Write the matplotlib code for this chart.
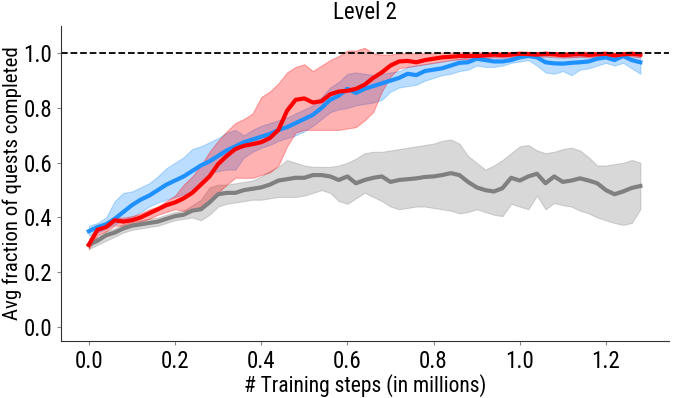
import numpy as np
import matplotlib
matplotlib.use("Agg")
import matplotlib.pyplot as plt
from matplotlib import font_manager

# training steps (millions), sampled every 0.02
STEPS = np.round(np.arange(0, 1.281, 0.02), 2)

BLUE_MEAN = [0.350, 0.365, 0.375, 0.395, 0.420, 0.445, 0.465, 0.480, 0.500, 0.520, 0.535, 0.550, 0.570,
             0.590, 0.605, 0.625, 0.645, 0.660, 0.675, 0.685, 0.695, 0.705, 0.720, 0.730, 0.745, 0.760,
             0.775, 0.800, 0.830, 0.845, 0.870, 0.855, 0.870, 0.880, 0.890, 0.900, 0.910, 0.925, 0.920,
             0.935, 0.940, 0.945, 0.955, 0.965, 0.967, 0.980, 0.975, 0.970, 0.970, 0.975, 0.985, 0.990,
             0.985, 0.967, 0.963, 0.962, 0.965, 0.967, 0.970, 0.980, 0.985, 0.975, 0.990, 0.975, 0.967]
BLUE_HI = [0.370, 0.380, 0.400, 0.460, 0.490, 0.495, 0.510, 0.525, 0.550, 0.580, 0.600, 0.620, 0.650,
           0.660, 0.675, 0.690, 0.710, 0.720, 0.700, 0.720, 0.735, 0.745, 0.755, 0.765, 0.780, 0.795,
           0.810, 0.840, 0.875, 0.895, 0.925, 0.930, 0.925, 0.920, 0.925, 0.930, 0.935, 0.950, 0.955,
           0.960, 0.965, 0.970, 0.975, 0.980, 0.985, 0.995, 0.995, 0.990, 0.990, 0.990, 0.995, 1.000,
           0.998, 0.990, 0.985, 0.985, 0.988, 0.990, 0.992, 0.995, 1.000, 0.995, 1.000, 0.998, 1.000]
BLUE_LO = [0.335, 0.345, 0.360, 0.375, 0.390, 0.400, 0.420, 0.440, 0.455, 0.465, 0.475, 0.485, 0.490,
           0.530, 0.560, 0.570, 0.575, 0.575, 0.620, 0.640, 0.655, 0.665, 0.680, 0.690, 0.700, 0.715,
           0.735, 0.760, 0.785, 0.795, 0.800, 0.810, 0.815, 0.820, 0.830, 0.860, 0.875, 0.880, 0.885,
           0.900, 0.910, 0.920, 0.925, 0.935, 0.940, 0.955, 0.950, 0.950, 0.955, 0.965, 0.970, 0.975,
           0.955, 0.930, 0.925, 0.935, 0.920, 0.940, 0.945, 0.955, 0.965, 0.955, 0.965, 0.945, 0.925]

RED_MEAN = [0.300, 0.355, 0.365, 0.390, 0.385, 0.390, 0.400, 0.415, 0.430, 0.445, 0.455, 0.470, 0.490,
            0.520, 0.550, 0.595, 0.625, 0.650, 0.662, 0.668, 0.675, 0.690, 0.720, 0.790, 0.830, 0.835,
            0.820, 0.825, 0.850, 0.860, 0.863, 0.870, 0.885, 0.910, 0.930, 0.955, 0.970, 0.972, 0.967,
            0.975, 0.980, 0.985, 0.987, 0.990, 0.990, 0.990, 0.992, 0.995, 0.993, 0.995, 0.998, 0.997,
            0.995, 0.998, 0.996, 0.993, 0.995, 0.997, 0.994, 0.996, 0.998, 0.992, 0.996, 0.998, 0.995]
RED_HI = [0.320, 0.370, 0.380, 0.400, 0.400, 0.405, 0.415, 0.430, 0.440, 0.460, 0.480, 0.520, 0.550,
          0.590, 0.640, 0.680, 0.715, 0.745, 0.760, 0.780, 0.840, 0.860, 0.890, 0.930, 0.950, 0.960,
          0.935, 0.955, 0.975, 0.990, 1.010, 1.010, 1.020, 1.000, 0.995, 0.995, 1.000, 1.000, 1.000,
          1.000, 1.000, 1.002, 1.003, 1.003, 1.003, 1.003, 1.004, 1.005, 1.004, 1.005, 1.006, 1.005,
          1.005, 1.006, 1.005, 1.004, 1.005, 1.006, 1.005, 1.005, 1.006, 1.003, 1.005, 1.006, 1.005]
RED_LO = [0.285, 0.335, 0.350, 0.370, 0.370, 0.375, 0.385, 0.395, 0.410, 0.420, 0.430, 0.425, 0.425,
          0.440, 0.460, 0.490, 0.520, 0.545, 0.545, 0.545, 0.555, 0.565, 0.590, 0.660, 0.710, 0.720,
          0.720, 0.720, 0.720, 0.720, 0.725, 0.730, 0.755, 0.785, 0.860, 0.915, 0.945, 0.950, 0.955,
          0.960, 0.965, 0.970, 0.975, 0.978, 0.978, 0.980, 0.982, 0.985, 0.984, 0.985, 0.988, 0.988,
          0.986, 0.988, 0.987, 0.984, 0.985, 0.987, 0.985, 0.986, 0.988, 0.982, 0.986, 0.988, 0.985]

GRAY_MEAN = [0.300, 0.315, 0.335, 0.345, 0.360, 0.370, 0.375, 0.380, 0.385, 0.395, 0.405, 0.410, 0.425,
             0.430, 0.455, 0.485, 0.490, 0.490, 0.500, 0.505, 0.510, 0.520, 0.535, 0.540, 0.545, 0.545,
             0.555, 0.555, 0.550, 0.537, 0.550, 0.525, 0.537, 0.545, 0.550, 0.530, 0.537, 0.540, 0.543,
             0.548, 0.550, 0.555, 0.562, 0.555, 0.530, 0.510, 0.500, 0.495, 0.507, 0.545, 0.535, 0.550,
             0.560, 0.525, 0.550, 0.530, 0.535, 0.543, 0.535, 0.525, 0.500, 0.485, 0.495, 0.508, 0.515]
GRAY_HI = [0.310, 0.330, 0.350, 0.360, 0.375, 0.385, 0.390, 0.395, 0.400, 0.410, 0.420, 0.425, 0.445,
           0.465, 0.510, 0.520, 0.520, 0.525, 0.530, 0.535, 0.550, 0.570, 0.585, 0.610, 0.600, 0.590,
           0.585, 0.585, 0.585, 0.590, 0.600, 0.615, 0.635, 0.640, 0.640, 0.645, 0.650, 0.655, 0.660,
           0.665, 0.670, 0.680, 0.685, 0.670, 0.625, 0.600, 0.575, 0.590, 0.610, 0.635, 0.660, 0.665,
           0.645, 0.635, 0.640, 0.650, 0.655, 0.645, 0.620, 0.590, 0.590, 0.595, 0.600, 0.610, 0.600]
GRAY_LO = [0.285, 0.300, 0.315, 0.330, 0.345, 0.355, 0.360, 0.365, 0.370, 0.380, 0.390, 0.395, 0.400,
           0.390, 0.410, 0.440, 0.450, 0.455, 0.460, 0.465, 0.465, 0.470, 0.475, 0.475, 0.475, 0.480,
           0.490, 0.500, 0.490, 0.460, 0.450, 0.470, 0.490, 0.475, 0.460, 0.440, 0.430, 0.435, 0.440,
           0.440, 0.435, 0.430, 0.425, 0.415, 0.420, 0.430, 0.420, 0.410, 0.405, 0.450, 0.440, 0.430,
           0.480, 0.430, 0.453, 0.445, 0.440, 0.425, 0.415, 0.400, 0.390, 0.380, 0.373, 0.380, 0.430]

X_TICKS = [0.0, 0.2, 0.4, 0.6, 0.8, 1.0, 1.2]
Y_TICKS = [0.0, 0.2, 0.4, 0.6, 0.8, 1.0]


def pick_font():
    names = {f.name for f in font_manager.fontManager.ttflist}
    for name in ["Roboto Condensed", "Roboto"]:
        if name in names:
            return name
    return "DejaVu Sans"


def main():
    plt.rcParams["font.family"] = [pick_font(), "DejaVu Sans"]
    fig = plt.figure(figsize=(6.77, 3.98), dpi=100)
    ax = fig.add_axes([0.0905, 0.144, 0.898, 0.791])

    series = [(GRAY_MEAN, GRAY_LO, GRAY_HI, "gray"),
              (BLUE_MEAN, BLUE_LO, BLUE_HI, "dodgerblue"),
              (RED_MEAN, RED_LO, RED_HI, "red")]
    for mean, lo, hi, color in series:
        ax.fill_between(STEPS, lo, hi, color=color, alpha=0.3, lw=0.8)
    for mean, lo, hi, color in series:
        ax.plot(STEPS, mean, color=color, lw=3)

    ax.axhline(1.0, color="black", lw=1.3, ls="--")
    ax.set_ylim(-0.05, 1.1)
    ax.set_xlim(-0.064, 1.347)
    ax.set_xticks(X_TICKS)
    ax.set_yticks(Y_TICKS)
    ax.tick_params(labelsize=16.5, length=3, color="#888888")
    for side in ("top", "right"):
        ax.spines[side].set_visible(False)
    for side in ("left", "bottom"):
        ax.spines[side].set_color("#333333")
    ax.set_xlabel("# Training steps (in millions)", fontsize=15.5, labelpad=1)
    ax.set_ylabel("Avg fraction of quests completed", fontsize=15, labelpad=1)
    ax.set_title("Level 2", fontsize=16.5, pad=5)
    fig.savefig("out.png", dpi=100)
    plt.close(fig)


if __name__ == "__main__":
    main()
